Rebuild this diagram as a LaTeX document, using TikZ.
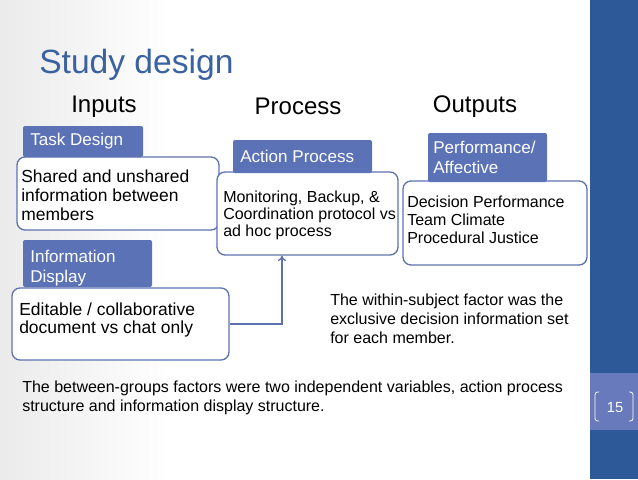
\documentclass[tikz,border=0pt]{standalone}
\usepackage{fontspec}
\setmainfont{Liberation Sans}
\usetikzlibrary{arrows.meta,calc}
\definecolor{barblue}{RGB}{46,89,152}
\definecolor{bandblue}{RGB}{104,122,188}
\definecolor{headblue}{RGB}{91,114,182}
\definecolor{lineblue}{RGB}{94,114,176}
\definecolor{titleblue}{RGB}{58,98,160}
\begin{document}
\begin{tikzpicture}[x=0.75pt,y=-0.75pt,
  headbox/.style={fill=headblue,draw=none,rounded corners=1.5pt,inner sep=0pt},
  contentbox/.style={draw=lineblue,line width=1pt,fill=white,rounded corners=6pt,inner sep=0pt},
  headlabel/.style={text=white,anchor=base west,inner sep=0pt,align=left,font=\fontsize{12.8}{15}\selectfont},
  boxlabel/.style={anchor=base west,inner sep=0pt,align=left,font=\fontsize{13.1}{13.5}\selectfont},
  notelabel/.style={anchor=base west,inner sep=0pt,align=left,font=\fontsize{12}{14.25}\selectfont},
  colhead/.style={anchor=base,inner sep=0pt,font=\fontsize{18}{20}\selectfont}]
\useasboundingbox (0,0) rectangle (638,479);
\fill[white] (0,0) rectangle (638,479);
\shade[left color=black!8,right color=white] (0,0) rectangle (170,479);
\fill[barblue] (590,0) rectangle (638,479);
\fill[bandblue] (590,373) rectangle (638,430);
\draw[white,line width=0.6pt,rounded corners=2pt] (599,392)--(595,392)--(595,421)--(599,421);
\draw[white,line width=0.6pt,rounded corners=2pt] (629,392)--(633,392)--(633,421)--(629,421);
\node[text=white,inner sep=0pt,font=\fontsize{11}{12}\selectfont] (pagenum) at (615,408) {15};

\node[anchor=base west,inner sep=0pt,text=titleblue,font=\fontsize{25.2}{30}\selectfont] (title) at (39,73) {Study design};
\node[colhead] (inputs) at (104,112) {Inputs};
\node[colhead] (process) at (298,114) {Process};
\node[colhead] (outputs) at (475,112) {Outputs};

\node[contentbox,minimum width=151.5pt,minimum height=54.75pt] (taskbox) at (118,193.5) {};
\node[contentbox,minimum width=162.75pt,minimum height=54pt] (infobox) at (120.5,324) {};
\node[contentbox,minimum width=135.75pt,minimum height=62.25pt] (actionbox) at (307.5,213.5) {};
\node[contentbox,minimum width=138pt,minimum height=63pt] (outbox) at (495,223) {};

\node[headbox,minimum width=90pt,minimum height=23.25pt] (taskhead) at (83,141.5) {};
\node[headbox,minimum width=96.75pt,minimum height=35.25pt] (infohead) at (87.5,263.5) {};
\node[headbox,minimum width=104.25pt,minimum height=24.75pt] (actionhead) at (302.5,156.5) {};
\node[headbox,minimum width=89.25pt,minimum height=36.75pt] (perfhead) at (487.5,157.5) {};

\node[headlabel] (tasklabel) at (30,145) {Task Design};
\node[headlabel] (infolabel) at (30,282) {Information\\Display};
\node[headlabel] (actionlabel) at (240,162) {Action Process};
\node[headlabel] (perflabel) at (433,173) {Performance/\\Affective};

\node[boxlabel,font=\fontsize{13.1}{13.9}\selectfont] (tasktext) at (21,220) {Shared and unshared\\information between\\members};
\node[boxlabel] (infotext) at (19,333) {Editable / collaborative\\document vs chat only};
\node[boxlabel,font=\fontsize{12}{12.75}\selectfont] (actiontext) at (223,236) {Monitoring, Backup, \&\\Coordination protocol vs\\ad hoc process};
\node[boxlabel,font=\fontsize{12}{13.5}\selectfont] (outtext) at (407,243) {Decision Performance\\Team Climate\\Procedural Justice};

\draw[draw=lineblue,line width=1pt,-{To[length=4pt,width=6pt]}] (infobox.east) -| ($(actionbox.south west)!0.36!(actionbox.south east)$);

\node[notelabel] (withinnote) at (330,343) {The within-subject factor was the\\exclusive decision information set\\for each member.};
\node[notelabel] (betweennote) at (22,411) {The between-groups factors were two independent variables, action process\\structure and information display structure.};
\end{tikzpicture}
\end{document}
